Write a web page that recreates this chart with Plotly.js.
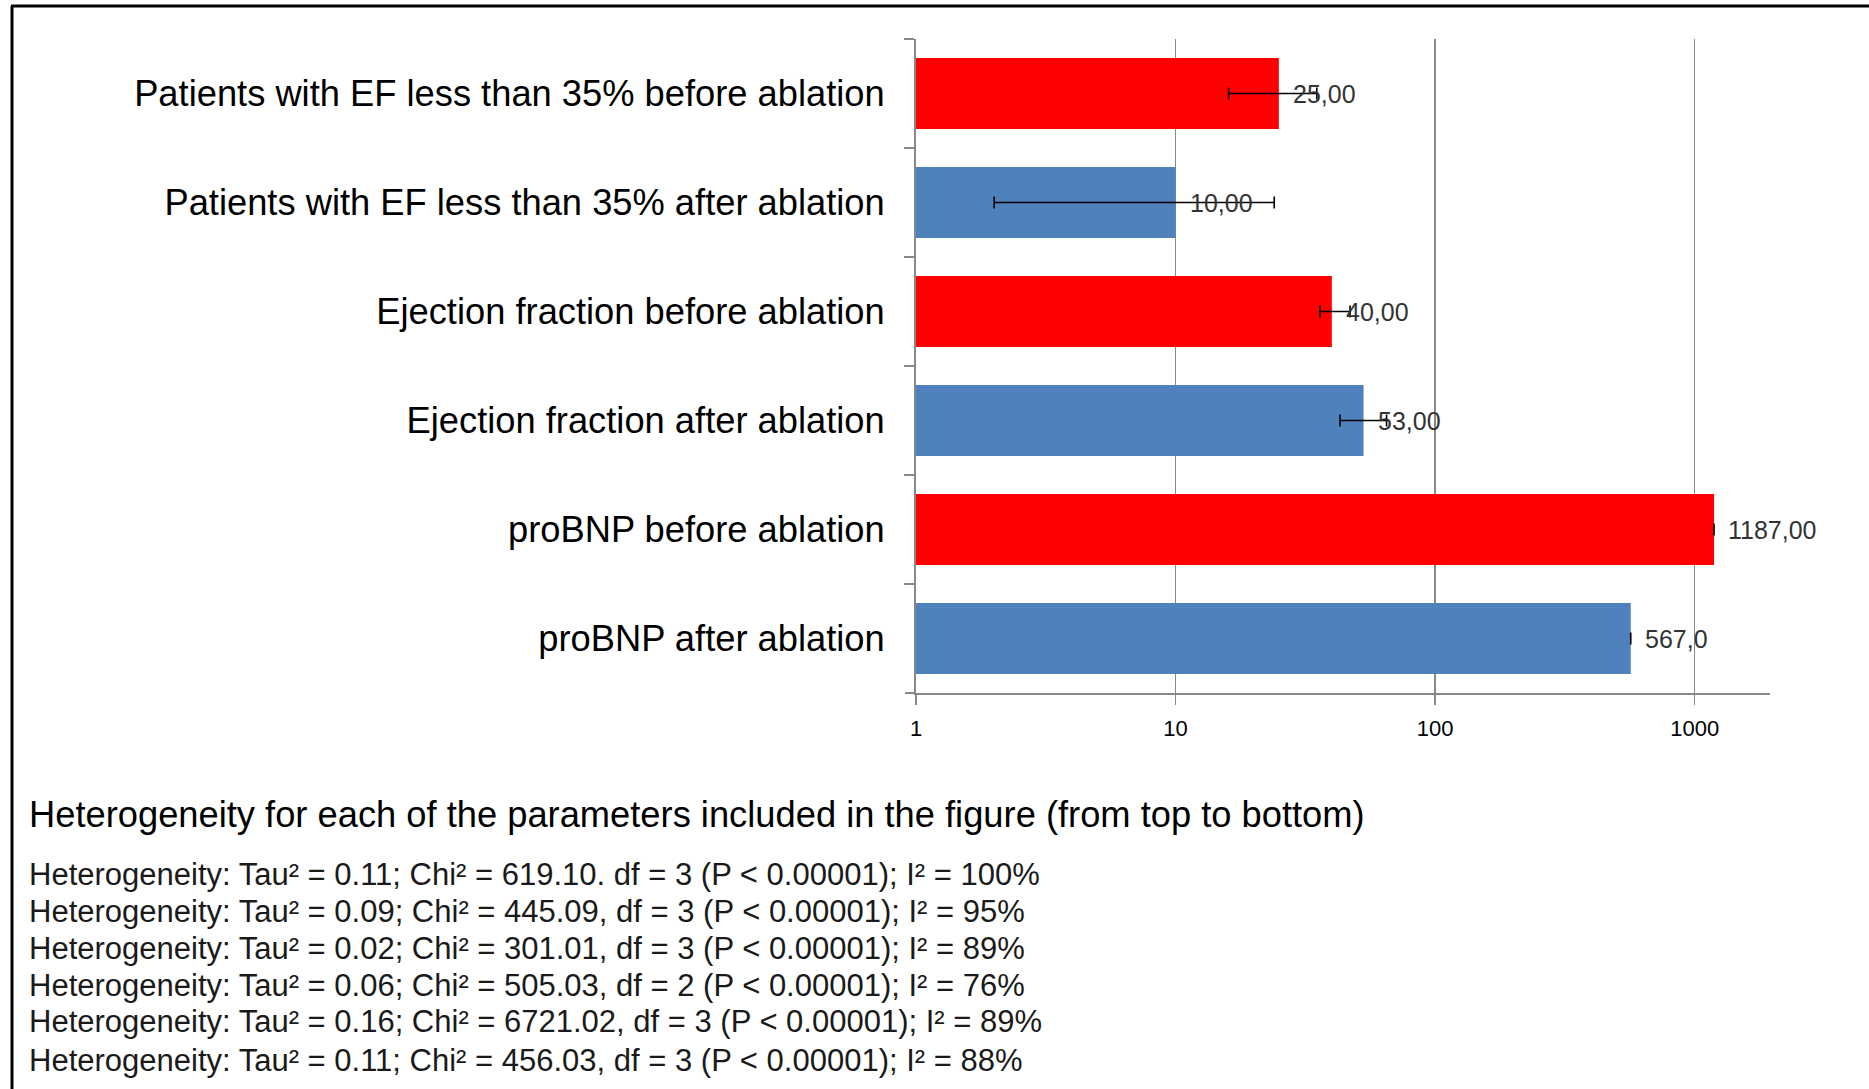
<!DOCTYPE html>
<html>
<head>
<meta charset="utf-8">
<script src="https://cdn.plot.ly/plotly-3.0.1.min.js"></script>
<style>html,body{margin:0;padding:0;background:#fff;}#chart{width:1869px;height:1089px;}</style>
</head>
<body>
<div id="chart"></div>
<script>
// ---- data ----
const categories = [
  "Patients with EF less than 35% before ablation",
  "Patients with EF less than 35% after ablation",
  "Ejection fraction before ablation",
  "Ejection fraction after ablation",
  "proBNP before ablation",
  "proBNP after ablation"
];
const means   = [25, 10, 40, 53, 1187, 567];
const ciLower = [16, 2, 36, 43, 1187, 567];
const ciUpper = [35, 24, 47, 65, 1187, 567];
const valueLabels = ["25,00", "10,00", "40,00", "53,00", "1187,00", "567,0"];
const groups = ["before", "after", "before", "after", "before", "after"];
const xTickVals = [1, 10, 100, 1000];
const xTickText = ["1", "10", "100", "1000"];
const heading = "Heterogeneity for each of the parameters included in the figure (from top to bottom)";
const heterogeneity = [
  "Heterogeneity: Tau\u00b2 = 0.11; Chi\u00b2 = 619.10. df = 3 (P < 0.00001); I\u00b2 = 100%",
  "Heterogeneity: Tau\u00b2 = 0.09; Chi\u00b2 = 445.09, df = 3 (P < 0.00001); I\u00b2 = 95%",
  "Heterogeneity: Tau\u00b2 = 0.02; Chi\u00b2 = 301.01, df = 3 (P < 0.00001); I\u00b2 = 89%",
  "Heterogeneity: Tau\u00b2 = 0.06; Chi\u00b2 = 505.03, df = 2 (P < 0.00001); I\u00b2 = 76%",
  "Heterogeneity: Tau\u00b2 = 0.16; Chi\u00b2 = 6721.02, df = 3 (P < 0.00001); I\u00b2 = 89%",
  "Heterogeneity: Tau\u00b2 = 0.11; Chi\u00b2 = 456.03, df = 3 (P < 0.00001); I\u00b2 = 88%"
];

// ---- layout geometry ----
const W = 1869, H = 1089;
const M = {l: 916, r: 99, t: 39, b: 396};
const plotW = W - M.l - M.r, plotH = H - M.t - M.b;
const px = x => (x - M.l) / plotW;
const py = y => (H - M.b - y) / plotH;

const colorMap = {before: "#FF0000", after: "#4F81BD"};
const FONT = "Liberation Sans, Arial, sans-serif";

const barTrace = {
  type: "bar",
  orientation: "h",
  x: means,
  y: categories,
  width: 0.65,
  marker: {color: groups.map(g => colorMap[g]), line: {width: 0}},
  error_x: {
    type: "data",
    symmetric: false,
    array: means.map((m, i) => ciUpper[i] - m),
    arrayminus: means.map((m, i) => m - ciLower[i]),
    color: "#000",
    thickness: 1.6,
    width: 6
  },
  hoverinfo: "skip",
  showlegend: false
};

const annotations = means.map((m, i) => ({
  x: Math.log10(m), y: categories[i], xref: "x", yref: "y",
  text: valueLabels[i], showarrow: false, xanchor: "left", yanchor: "middle",
  xshift: 12, font: {family: FONT, size: 25, color: "#333"}
}));

annotations.push({
  x: px(27), y: py(814), xref: "paper", yref: "paper",
  text: heading, showarrow: false, xanchor: "left", yanchor: "middle",
  font: {family: FONT, size: 36.3, color: "#000"}
});
const hetY = [874, 911, 948, 985, 1022, 1060];
heterogeneity.forEach((t, i) => annotations.push({
  x: px(27), y: py(hetY[i]), xref: "paper", yref: "paper",
  text: t, showarrow: false, xanchor: "left", yanchor: "middle",
  font: {family: FONT, size: 31, color: "#1a1a1a"}
}));

const shapes = [
  {type: "line", xref: "paper", yref: "paper", x0: px(12), x1: px(12), y0: py(H), y1: py(6), line: {color: "#000", width: 3}},
  {type: "line", xref: "paper", yref: "paper", x0: px(11), x1: px(W), y0: py(6), y1: py(6), line: {color: "#000", width: 3}},
  {type: "line", xref: "paper", yref: "paper", x0: px(905), x1: px(916), y0: 0, y1: 0, line: {color: "#888", width: 2}}
];

const layout = {
  width: W, height: H,
  margin: M,
  paper_bgcolor: "#fff", plot_bgcolor: "#fff",
  showlegend: false,
  bargap: 0.35,
  xaxis: {
    type: "log",
    range: [0, Math.log10(1950)],
    tickvals: xTickVals, ticktext: xTickText,
    showgrid: true, gridcolor: "#888", gridwidth: 1.5,
    showline: true, linecolor: "#888", linewidth: 2,
    ticks: "outside", ticklen: 10, tickcolor: "#888", tickwidth: 1.5,
    ticklabelstandoff: 5,
    tickfont: {family: FONT, size: 22, color: "#000"},
    zeroline: false, fixedrange: true
  },
  yaxis: {
    type: "category",
    autorange: "reversed",
    showgrid: false,
    showline: true, linecolor: "#888", linewidth: 2,
    ticks: "outside", tickson: "boundaries", ticklen: 10, tickcolor: "#888", tickwidth: 1.5,
    ticklabelstandoff: 22,
    tickfont: {family: FONT, size: 36.3, color: "#000"},
    fixedrange: true
  },
  annotations: annotations,
  shapes: shapes
};

Plotly.newPlot("chart", [barTrace], layout, {displayModeBar: false, staticPlot: true});
</script>
</body>
</html>
